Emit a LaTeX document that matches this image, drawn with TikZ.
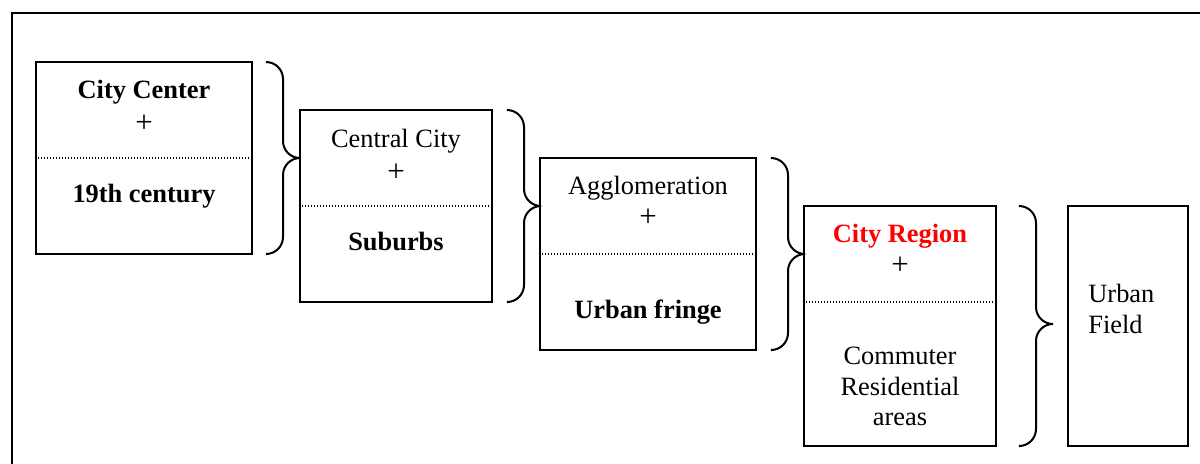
\documentclass[tikz,border=0pt]{standalone}
\usepackage{fontspec}
\setmainfont{Liberation Serif}
\usetikzlibrary{fit}
\begin{document}
\begin{tikzpicture}[x=0.5pt,y=-0.5pt,
  box/.style={draw, line width=1pt, inner sep=0pt},
  sepline/.style={line width=0.6pt, dash pattern=on 0.5pt off 1pt},
  bracepath/.style={line width=1pt, rounded corners=8.5pt},
  lbl/.style={anchor=base, inner sep=0pt, font=\fontsize{13.2}{15.5}\selectfont},
  plus/.style={anchor=base, inner sep=0pt, font=\fontsize{15.5}{17}\selectfont},
  frame/.style={line width=1.2pt}]
\clip (0,0) rectangle (1200,463);
\draw[frame] (1215,13) -- (12,13) -- (12,480);
% boxes
\path (36,62) coordinate (b1nw) (252,254) coordinate (b1se)
      (300,110) coordinate (b2nw) (492,302) coordinate (b2se)
      (540,158) coordinate (b3nw) (756,350) coordinate (b3se)
      (804,206) coordinate (b4nw) (996,446) coordinate (b4se)
      (1068,206) coordinate (b5nw) (1188,446) coordinate (b5se);
\node[box, fit=(b1nw)(b1se)] (b1) {};
\node[box, fit=(b2nw)(b2se)] (b2) {};
\node[box, fit=(b3nw)(b3se)] (b3) {};
\node[box, fit=(b4nw)(b4se)] (b4) {};
\node[box, fit=(b5nw)(b5se)] (b5) {};
% dotted separators
\draw[sepline] (38,158) -- (250,158);
\draw[sepline] (302,206) -- (490,206);
\draw[sepline] (542,254) -- (754,254);
\draw[sepline] (806,302) -- (994,302);
% braces
\draw[bracepath] (266,62) -- (283,62) -- (283,158) -- (300,158);
\draw[bracepath] (300,158) -- (283,158) -- (283,254) -- (266,254);
\draw[bracepath] (508,110) -- (524,110) -- (524,206) -- (540,206);
\draw[bracepath] (540,206) -- (524,206) -- (524,302) -- (508,302);
\draw[bracepath] (772,158) -- (788,158) -- (788,254) -- (804,254);
\draw[bracepath] (804,254) -- (788,254) -- (788,350) -- (772,350);
\draw[bracepath] (1020,206) -- (1036,206) -- (1036,324) -- (1053,324);
\draw[bracepath] (1053,324) -- (1036,324) -- (1036,446) -- (1020,446);
% texts
\node[lbl, font=\fontsize{13.2}{15.5}\selectfont\bfseries] (t1a) at (144,98) {City Center};
\node[plus] (t1p) at (144,132) {+};
\node[lbl, font=\fontsize{13.2}{15.5}\selectfont\bfseries] (t1b) at (144,202) {19th century};
\node[lbl] (t2a) at (396,147) {Central City};
\node[plus] (t2p) at (396,181) {+};
\node[lbl, font=\fontsize{13.2}{15.5}\selectfont\bfseries] (t2b) at (396,250) {Suburbs};
\node[lbl] (t3a) at (648,194) {Agglomeration};
\node[plus] (t3p) at (648,226) {+};
\node[lbl, font=\fontsize{13.2}{15.5}\selectfont\bfseries] (t3b) at (648,318) {Urban fringe};
\node[lbl, text=red, font=\fontsize{13.2}{15.5}\selectfont\bfseries] (t4a) at (900,242) {City Region};
\node[plus] (t4p) at (900,274) {+};
\node[lbl] (t4b) at (900,364) {Commuter};
\node[lbl] (t4c) at (900,395) {Residential};
\node[lbl] (t4d) at (900,425) {areas};
\node[lbl, anchor=base west] (t5a) at (1088,302) {Urban};
\node[lbl, anchor=base west] (t5b) at (1088,333) {Field};
\end{tikzpicture}
\end{document}
